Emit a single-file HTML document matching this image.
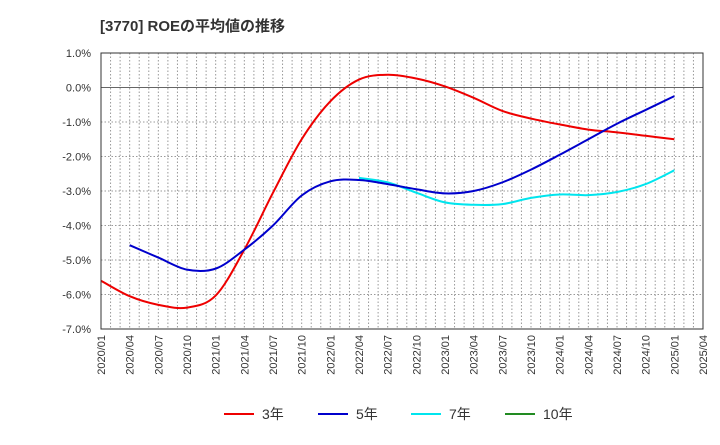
<!DOCTYPE html>
<html><head><meta charset="utf-8"><style>
body{margin:0;background:#fff;}
svg{font-family:"Liberation Sans","Noto Sans CJK JP",sans-serif;}
</style></head><body>
<svg id="c" width="720" height="440">
<text x="100" y="31" font-size="15" font-weight="bold" fill="#333">[3770]  ROEの平均値の推移</text>
<g id="grid"></g><g id="series"></g><g id="axes"></g>
<g>
<line x1="224" y1="414" x2="254" y2="414" stroke="#e00" stroke-width="2"/><text x="262" y="419" font-size="14" fill="#333">3年</text>
<line x1="318" y1="414" x2="348" y2="414" stroke="#0000cc" stroke-width="2"/><text x="356" y="419" font-size="14" fill="#333">5年</text>
<line x1="411" y1="414" x2="441" y2="414" stroke="#00e5ee" stroke-width="2"/><text x="449" y="419" font-size="14" fill="#333">7年</text>
<line x1="505" y1="414" x2="535" y2="414" stroke="#228b22" stroke-width="2"/><text x="543" y="419" font-size="14" fill="#333">10年</text>
</g>
</svg>
<script>
const xLabels=["2020/01","2020/04","2020/07","2020/10","2021/01","2021/04","2021/07","2021/10","2022/01","2022/04","2022/07","2022/10","2023/01","2023/04","2023/07","2023/10","2024/01","2024/04","2024/07","2024/10","2025/01","2025/04"];
const yTicks=[1,0,-1,-2,-3,-4,-5,-6,-7];
const s3Start=0;
const s3=[-5.6,-6.05,-6.3,-6.38,-6.03,-4.7,-3.05,-1.5,-0.4,0.23,0.37,0.26,0.03,-0.3,-0.68,-0.9,-1.07,-1.22,-1.3,-1.4,-1.5];
const s5Start=1;
const s5=[-4.57,-4.93,-5.28,-5.25,-4.7,-4.0,-3.13,-2.72,-2.68,-2.8,-2.95,-3.07,-3.0,-2.75,-2.38,-1.95,-1.5,-1.05,-0.65,-0.25];
const s7Start=9;
const s7=[-2.62,-2.75,-3.05,-3.33,-3.4,-3.38,-3.2,-3.1,-3.12,-3.03,-2.8,-2.4];
const L=101,R=703,T=53,B=329;
const X=q=>L+q*(R-L)/21;
const Y=v=>T+(1-v)*(B-T)/8;
const NS="http://www.w3.org/2000/svg";
function mk(tag,attrs,parent){const e=document.createElementNS(NS,tag);for(const k in attrs)e.setAttribute(k,attrs[k]);parent.appendChild(e);return e;}
const grid=document.getElementById('grid'),axes=document.getElementById('axes'),ser=document.getElementById('series');
for(let m=1;m<63;m++){const l=mk('line',{x1:L+m*(R-L)/63,x2:L+m*(R-L)/63,y1:T,y2:B,stroke:'#999','stroke-dasharray':'1.5,2','stroke-width':1},grid);

}
yTicks.forEach(v=>{const y=Y(v);
const l=mk('line',{x1:L,x2:R,y1:y,y2:y,stroke:v===0?'#666':'#999','stroke-dasharray':v===0?'':'1.5,2','stroke-width':1},grid);


const t=mk('text',{x:91,y:y+4,'font-size':11,'text-anchor':'end',fill:'#333'},axes);t.textContent=v.toFixed(1)+'%';

});
const fr=mk('rect',{x:L,y:T,width:R-L,height:B-T,fill:'none',stroke:'#333'},axes);


xLabels.forEach((s,i)=>{const x=X(i);
const t=mk('text',{x:0,y:0,'font-size':11,'text-anchor':'end',fill:'#333',transform:`translate(${x+4},${B+6}) rotate(-90)`},axes);t.textContent=s;

});
function path(vals,start,color,name){const p=vals.map((v,i)=>[X(start+i),Y(v)]);
let d=`M${p[0][0]},${p[0][1]}`;
for(let i=0;i<p.length-1;i++){const p0=p[i-1]||p[i],p1=p[i],p2=p[i+1],p3=p[i+2]||p2;
d+=`C${p1[0]+(p2[0]-p0[0])/6},${p1[1]+(p2[1]-p0[1])/6} ${p2[0]-(p3[0]-p1[0])/6},${p2[1]-(p3[1]-p1[1])/6} ${p2[0]},${p2[1]}`;}
const e=mk('path',{d,fill:'none',stroke:color,'stroke-width':2},ser);

}
path(s7,s7Start,'#00e5ee','line-7yr');
path(s3,s3Start,'#e00','line-3yr');
path(s5,s5Start,'#0000cc','line-5yr');
</script>
</body></html>
